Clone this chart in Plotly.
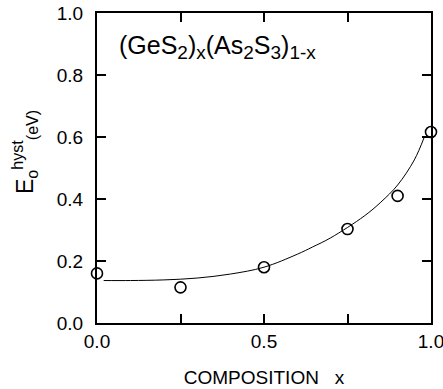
import plotly.graph_objects as go

# measured points
comp_x = [0.0, 0.25, 0.5, 0.75, 0.9, 1.0]
e_hyst = [0.16, 0.115, 0.18, 0.303, 0.41, 0.616]

# guide curve
curve_x = [0.02, 0.1, 0.2, 0.3, 0.4, 0.5, 0.6, 0.645, 0.7, 0.8, 0.85, 0.9, 0.95, 0.98]
curve_y = [0.137, 0.137, 0.139, 0.145, 0.158, 0.18, 0.222, 0.245, 0.275, 0.345, 0.39, 0.445, 0.526, 0.60]

x_tickvals = [0.0, 0.5, 1.0]
x_ticktext = ["0.0", "0.5", "1.0"]
x_minor_ticks = [0.25, 0.5, 0.75]
y_tickvals = [0.0, 0.2, 0.4, 0.6, 0.8, 1.0]
y_ticktext = ["0.0", "0.2", "0.4", "0.6", "0.8", "1.0"]

FONT = "Liberation Sans"


def sub(s):
    return '<sub><span style="font-size:19px">' + s + '</span></sub>'


formula = "(GeS" + sub("2") + ")" + sub("x") + "(As" + sub("2") + "S" + sub("3") + ")" + sub("1-x")

fig = go.Figure()
fig.add_trace(go.Scatter(x=curve_x, y=curve_y, mode="lines",
                         line=dict(color="black", width=1, shape="spline"),
                         hoverinfo="skip", showlegend=False))
fig.add_trace(go.Scatter(x=comp_x, y=e_hyst, mode="markers",
                         marker=dict(symbol="circle-open", size=11,
                                     color="black", line=dict(width=1.6, color="black")),
                         cliponaxis=False, showlegend=False))

fig.update_layout(
    width=443, height=389,
    margin=dict(l=97, r=12, t=13, b=66),
    paper_bgcolor="white", plot_bgcolor="white",
    font=dict(family=FONT, color="black", size=19),
    xaxis=dict(range=[0, 1], tickvals=x_tickvals, ticktext=x_ticktext,
               ticks="inside", ticklen=9, tickwidth=2, tickcolor="black",
               minor=dict(tickvals=x_minor_ticks, ticks="inside", ticklen=9,
                          tickwidth=2, tickcolor="black"),
               showline=True, linecolor="black", linewidth=2, mirror="ticks",
               showgrid=False, zeroline=False, automargin=False,
               ticklabeloverflow="allow",
               tickfont=dict(size=19),
               title=dict(text="COMPOSITION   x", font=dict(size=19), standoff=20)),
    yaxis=dict(range=[0, 1], tickvals=y_tickvals, ticktext=y_ticktext,
               ticks="inside", ticklen=9, tickwidth=2, tickcolor="black",
               showline=True, linecolor="black", linewidth=2, mirror="ticks",
               showgrid=False, zeroline=False, automargin=False,
               tickfont=dict(size=19), ticklabelstandoff=8),
    annotations=[
        dict(text=formula,
             xref="paper", yref="paper", x=0.06, y=0.89,
             xanchor="left", yanchor="middle", showarrow=False,
             font=dict(size=25)),
        dict(text="E<sub>o</sub><sup>hyst</sup><sub>(eV)</sub>",
             xref="paper", yref="paper", x=-0.22, y=0.55,
             xanchor="center", yanchor="middle", textangle=-90, showarrow=False,
             font=dict(size=23)),
    ],
)

fig.write_html("out.html", config={"displayModeBar": False},
               post_script="document.body.style.margin='0';")
